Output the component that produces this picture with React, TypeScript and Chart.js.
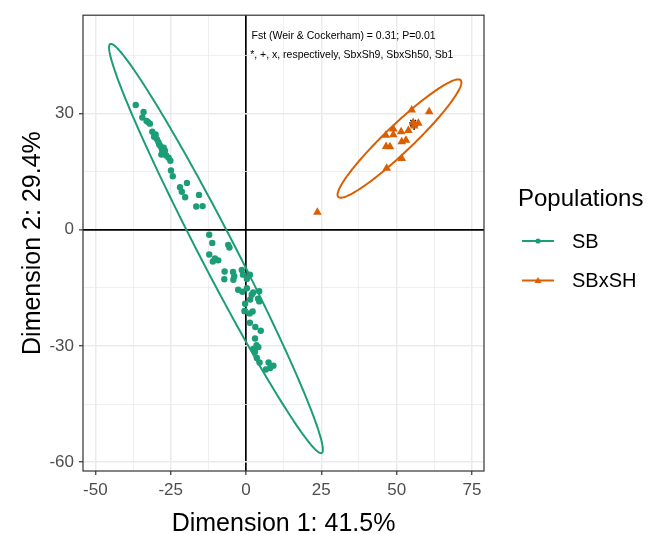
import React, { useEffect, useRef } from "react";
import { Chart, registerables } from "chart.js";

Chart.register(...registerables);

// ---------- data ----------
const SB_POINTS: number[][] = [
  [-36.6, 32.2], [-34.0, 30.4], [-34.4, 29.0], [-33.0, 28.1], [-31.9, 27.4], [-32.5, 27.8],
  [-31.1, 25.3], [-30.5, 24.0], [-30.0, 24.6], [-29.6, 23.4], [-29.1, 22.7], [-28.8, 22.0],
  [-28.4, 21.6], [-27.9, 20.7], [-27.3, 21.2], [-26.9, 20.4], [-28.1, 19.4], [-26.5, 19.2],
  [-25.7, 18.6], [-25.1, 17.8], [-24.9, 15.3], [-24.3, 13.8], [-21.9, 11.0], [-21.3, 9.8],
  [-19.6, 12.1], [-20.2, 8.4], [-15.6, 9.0], [-16.5, 6.0], [-14.4, 6.1], [-12.2, -1.3],
  [-11.2, -3.4], [-5.9, -3.9], [-5.5, -4.6], [-12.2, -6.4], [-10.3, -7.4], [-9.2, -7.9],
  [-11.0, -8.2], [-7.1, -10.8], [-7.2, -12.8], [-4.3, -10.9], [-3.9, -12.0], [-4.2, -12.9],
  [-1.4, -10.4], [-1.0, -11.6], [1.3, -11.6], [0.3, -12.7], [-2.6, -15.5], [-1.2, -16.0],
  [0.3, -15.1], [1.9, -16.8], [2.4, -16.2], [4.4, -15.9], [4.0, -17.8], [4.4, -18.5],
  [1.4, -18.0], [-0.3, -19.1], [2.2, -21.1], [1.2, -21.6], [-0.5, -21.0], [1.3, -24.0],
  [3.1, -25.1], [4.9, -26.1], [3.0, -28.1], [3.5, -29.8], [4.1, -30.3], [2.4, -30.8],
  [3.0, -31.6], [3.6, -33.1], [4.5, -34.3], [7.5, -34.3], [9.1, -35.1], [8.0, -35.7],
  [6.6, -36.1],
];

const SBXSH_POINTS: number[][] = [
  [55.0, 30.9], [60.8, 30.5], [57.2, 27.5], [53.9, 25.6], [51.5, 25.3], [48.9, 26.0],
  [48.9, 24.5], [46.4, 24.4], [53.1, 23.1], [51.7, 22.7], [46.5, 21.5], [47.8, 21.4],
  [51.7, 18.4], [46.7, 15.9], [23.7, 4.5], [55.5, 27.6], [55.8, 26.8],
];

// highlighted samples: *, +, x
const MARK_NAMES = ["SbxSh9", "SbxSh50", "Sb1"];
const MARK_POINTS: number[][] = [[55.5, 27.6], [55.8, 26.8], [-0.3, -21.1]];

// 95% ellipses (data units): centre, semi-axes, rotation
const SB_ELLIPSE = { cx: -9.97, cy: -4.85, a: 63.4, b: 5.54, angleDeg: -56.3 };
const SBXSH_ELLIPSE = { cx: 50.95, cy: 23.55, a: 25.3, b: 3.93, angleDeg: 36.2 };

const X_TICKS = [-50, -25, 0, 25, 50, 75];
const X_MINOR = [-37.5, -12.5, 12.5, 37.5, 62.5];
const Y_TICKS = [-60, -30, 0, 30];
const Y_MINOR = [-45, -15, 15, 45];
const X_LIMITS = [-54.1, 79.0];
const Y_LIMITS = [-62.3, 55.4];

const SERIES_NAMES = ["SB", "SBxSH"];
const LEGEND_TITLE = "Populations";
const X_TITLE = "Dimension 1: 41.5%";
const Y_TITLE = "Dimension 2: 29.4%";
const NOTES = [
  { text: "Fst (Weir & Cockerham) = 0.31; P=0.01", x: 32.4, y: 49.9 },
  { text: "*, +, x, respectively, SbxSh9, SbxSh50, Sb1", x: 35.1, y: 45.0 },
];

// ---------- styles ----------
const GREEN = "#1B9E77";
const ORANGE = "#D95F02";
const FONT = "'Liberation Sans', Arial, sans-serif";

function drawEllipse(chart: any, e: any, color: string) {
  const xs = chart.scales.x;
  const ys = chart.scales.y;
  const ctx = chart.ctx;
  const th = (e.angleDeg * Math.PI) / 180;
  const ca = chart.chartArea;
  ctx.save();
  ctx.beginPath();
  ctx.rect(ca.left, ca.top, ca.right - ca.left, ca.bottom - ca.top);
  ctx.clip();
  ctx.beginPath();
  const n = 240;
  for (let i = 0; i <= n; i++) {
    const t = (i / n) * Math.PI * 2;
    const dx = e.a * Math.cos(t);
    const dy = e.b * Math.sin(t);
    const X = e.cx + dx * Math.cos(th) - dy * Math.sin(th);
    const Y = e.cy + dx * Math.sin(th) + dy * Math.cos(th);
    const px = xs.getPixelForValue(X);
    const py = ys.getPixelForValue(Y);
    if (i === 0) ctx.moveTo(px, py);
    else ctx.lineTo(px, py);
  }
  ctx.closePath();
  ctx.strokeStyle = color;
  ctx.lineWidth = 2;
  ctx.stroke();
  ctx.restore();
}

const customPlugin = {
  id: "custom",
  beforeDatasetsDraw(chart: any) {
    drawEllipse(chart, SB_ELLIPSE, GREEN);
    drawEllipse(chart, SBXSH_ELLIPSE, ORANGE);
  },
  afterDraw(chart: any) {
    const ctx = chart.ctx;
    const ca = chart.chartArea;
    const xs = chart.scales.x;
    const ys = chart.scales.y;
    ctx.save();
    // panel border
    ctx.strokeStyle = "#333333";
    ctx.lineWidth = 1.2;
    ctx.strokeRect(ca.left, ca.top, ca.right - ca.left, ca.bottom - ca.top);

    // annotations
    ctx.fillStyle = "#000";
    ctx.font = `10.5px ${FONT}`;
    ctx.textAlign = "center";
    ctx.textBaseline = "middle";
    NOTES.forEach((n) => {
      ctx.fillText(n.text, xs.getPixelForValue(n.x), ys.getPixelForValue(n.y));
    });

    // axis titles
    ctx.fillStyle = "#000";
    ctx.font = `25px ${FONT}`;
    ctx.textAlign = "center";
    ctx.textBaseline = "alphabetic";
    ctx.fillText(X_TITLE, (ca.left + ca.right) / 2, 531);
    ctx.save();
    ctx.translate(40, (ca.top + ca.bottom) / 2);
    ctx.rotate(-Math.PI / 2);
    ctx.fillText(Y_TITLE, 0, 0);
    ctx.restore();

    // legend
    ctx.textAlign = "left";
    ctx.textBaseline = "alphabetic";
    ctx.font = `24px ${FONT}`;
    ctx.fillText(LEGEND_TITLE, 518, 206);
    const colors = [GREEN, ORANGE];
    const ys2 = [241, 280.5];
    SERIES_NAMES.forEach((name, i) => {
      const y = ys2[i];
      ctx.strokeStyle = colors[i];
      ctx.lineWidth = 2;
      ctx.beginPath();
      ctx.moveTo(522, y);
      ctx.lineTo(554, y);
      ctx.stroke();
      ctx.fillStyle = colors[i];
      ctx.beginPath();
      if (i === 0) {
        ctx.arc(538, y, 2.6, 0, Math.PI * 2);
      } else {
        ctx.moveTo(538, y - 3.6);
        ctx.lineTo(541.5, y + 2.4);
        ctx.lineTo(534.5, y + 2.4);
        ctx.closePath();
      }
      ctx.fill();
      ctx.fillStyle = "#000";
      ctx.font = `20px ${FONT}`;
      ctx.textBaseline = "middle";
      ctx.fillText(name, 572, y + 1);
    });
    ctx.restore();
  },
};

function majorOf(list: number[]) {
  return (ctx: any) => ctx.tick && list.includes(ctx.tick.value);
}

export default function App() {
  const ref = useRef<HTMLCanvasElement | null>(null);

  useEffect(() => {
    if (!ref.current) return;
    const isXMajor = majorOf(X_TICKS);
    const isYMajor = majorOf(Y_TICKS);
    const gridFor = (isMajor: (c: any) => boolean) => ({
      color: (c: any) => (c.tick && c.tick.value === 0 ? "#000000" : "#EBEBEB"),
      lineWidth: (c: any) => (c.tick && c.tick.value === 0 ? 1.7 : isMajor(c) ? 1.5 : 0.8),
      tickColor: (c: any) => (isMajor(c) ? "#333333" : "rgba(0,0,0,0)"),
      tickLength: 4,
      tickWidth: 1.2,
      drawTicks: true,
    });

    const chart = new Chart(ref.current, {
      type: "scatter",
      data: {
        datasets: [
          {
            label: SERIES_NAMES[0],
            data: SB_POINTS.map((p) => ({ x: p[0], y: p[1] })),
            backgroundColor: GREEN,
            borderColor: GREEN,
            pointStyle: "circle",
            pointRadius: 3.2,
            borderWidth: 0,
          },
          {
            label: SERIES_NAMES[1],
            data: SBXSH_POINTS.map((p) => ({ x: p[0], y: p[1] })),
            backgroundColor: ORANGE,
            borderColor: ORANGE,
            pointStyle: "triangle",
            pointRadius: 5,
            borderWidth: 0,
          },
          {
            label: MARK_NAMES[0],
            data: [{ x: MARK_POINTS[0][0], y: MARK_POINTS[0][1] }],
            borderColor: "#000000",
            backgroundColor: "#000000",
            pointStyle: "star",
            pointRadius: 4,
            borderWidth: 1.3,
          },
          {
            label: MARK_NAMES[1],
            data: [{ x: MARK_POINTS[1][0], y: MARK_POINTS[1][1] }],
            borderColor: "#000000",
            backgroundColor: "#000000",
            pointStyle: "cross",
            pointRadius: 4,
            borderWidth: 1.3,
          },
          {
            label: MARK_NAMES[2],
            data: [{ x: MARK_POINTS[2][0], y: MARK_POINTS[2][1] }],
            borderColor: "#FF0000",
            backgroundColor: "#FF0000",
            pointStyle: "crossRot",
            pointRadius: 3.5,
            borderWidth: 1.4,
          },
        ],
      },
      options: {
        responsive: false,
        animation: false,
        events: [],
        layout: { padding: { left: 0, right: 172, top: 12, bottom: 0 } },
        plugins: { legend: { display: false }, tooltip: { enabled: false } },
        scales: {
          x: {
            type: "linear",
            min: X_LIMITS[0],
            max: X_LIMITS[1],
            afterBuildTicks: (s: any) => {
              s.ticks = [...X_TICKS, ...X_MINOR].sort((a, b) => a - b).map((v) => ({ value: v }));
            },
            afterFit: (s: any) => {
              s.height = 63;
            },
            ticks: {
              autoSkip: false,
              maxRotation: 0,
              padding: 5,
              color: "#4D4D4D",
              font: { family: FONT, size: 17 },
              callback: (v: any) => (X_TICKS.includes(Number(v)) ? String(v) : ""),
            },
            grid: gridFor(isXMajor),
            border: { display: false },
          },
          y: {
            type: "linear",
            min: Y_LIMITS[0],
            max: Y_LIMITS[1],
            afterBuildTicks: (s: any) => {
              s.ticks = [...Y_TICKS, ...Y_MINOR].sort((a, b) => a - b).map((v) => ({ value: v }));
            },
            afterFit: (s: any) => {
              s.width = 83;
            },
            ticks: {
              autoSkip: false,
              padding: 5,
              color: "#4D4D4D",
              font: { family: FONT, size: 17 },
              callback: (v: any) => (Y_TICKS.includes(Number(v)) ? String(v) : ""),
            },
            grid: gridFor(isYMajor),
            border: { display: false },
          },
        },
      },
      plugins: [customPlugin],
    } as any);
    return () => chart.destroy();
  }, []);

  return (
    <div style={{ position: "fixed", left: 0, top: 0, width: 656, height: 534, background: "#fff" }}>
      <canvas ref={ref} width={656} height={534} style={{ width: 656, height: 534 }} />
    </div>
  );
}
